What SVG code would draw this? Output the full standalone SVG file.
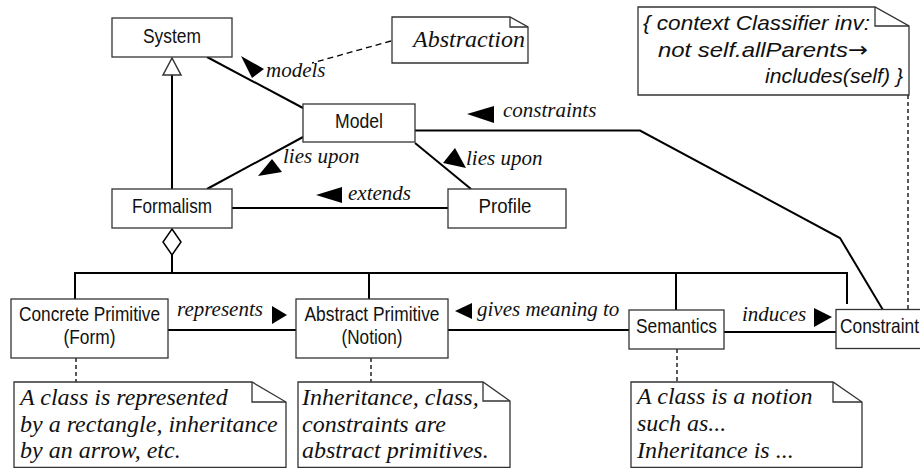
<svg xmlns="http://www.w3.org/2000/svg" width="920" height="468" viewBox="0 0 920 468">
<style>
.box{fill:#fff;stroke:#333;stroke-width:1.3}
.note{fill:#fff;stroke:#333;stroke-width:1.3;stroke-linejoin:miter}
.fold{fill:none;stroke:#333;stroke-width:1.3}
.c{fill:none;stroke:#000;stroke-width:2}
.d{fill:none;stroke:#000;stroke-width:1.3;stroke-dasharray:6,4}
.dd{fill:none;stroke:#000;stroke-width:1.3;stroke-dasharray:4,3}
.ah{fill:#000;stroke:none}
.n{font-family:"Liberation Sans",Arial,sans-serif;font-size:21px;fill:#111;text-anchor:middle}
.l{font-family:"Liberation Serif","Times New Roman",serif;font-style:italic;font-size:21px;fill:#111}
.nt{font-family:"Liberation Serif","Times New Roman",serif;font-style:italic;font-size:24px;fill:#111}
.ocl{font-family:"Liberation Sans",Arial,sans-serif;font-style:italic;font-size:21px;fill:#111}
</style>
<rect width="920" height="468" fill="#fff"/>
<g id="connectors">
  <line class="c" x1="207" y1="57" x2="303" y2="108"/>
  <line class="d" x1="391" y1="41" x2="312" y2="63"/>
  <line class="c" x1="207" y1="189" x2="303" y2="137"/>
  <line class="c" x1="415" y1="143" x2="471" y2="189"/>
  <line class="c" x1="232" y1="208" x2="448" y2="208"/>
  <polyline class="c" points="415,130.5 640,130.5 840,238 883,310"/>
  <line class="dd" x1="908" y1="95" x2="908" y2="309"/>
  <line class="c" x1="172" y1="75" x2="172" y2="189"/>
  <polygon points="172,58 181,75 163,75" fill="#fff" stroke="#333" stroke-width="1.5"/>
  <line class="c" x1="172" y1="255" x2="172" y2="273"/>
  <polygon points="172,229 181,242 172,255 163,242" fill="#fff" stroke="#000" stroke-width="1.5"/>
  <polyline class="c" points="75,299 75,273 847,273 847,304"/>
  <line class="c" x1="369" y1="273" x2="369" y2="299"/>
  <line class="c" x1="676" y1="273" x2="676" y2="310"/>
  <line class="c" x1="168" y1="330" x2="296" y2="330"/>
  <line class="c" x1="448" y1="330" x2="629" y2="330"/>
  <line class="c" x1="724" y1="332" x2="836" y2="332"/>
  <line class="dd" x1="76" y1="358" x2="76" y2="382"/>
  <line class="dd" x1="371" y1="358" x2="371" y2="382"/>
  <line class="dd" x1="677" y1="349" x2="677" y2="382"/>
  <polygon class="ah" points="241,56 264,69 252,78"/>
  <polygon class="ah" points="258,176 282,172 272,159"/>
  <polygon class="ah" points="443,163 455,148 466,168"/>
  <polygon class="ah" points="467,114 494,106 494,123"/>
  <polygon class="ah" points="316,195 342,187 342,203"/>
  <polygon class="ah" points="287,315 272,306 272,324"/>
  <polygon class="ah" points="455,311 472,303 472,319"/>
  <polygon class="ah" points="832,317 814,308 814,327"/>
  <text class="l" x="266" y="77">models</text>
  <text class="l" x="283" y="163">lies upon</text>
  <text class="l" x="466" y="165">lies upon</text>
  <text class="l" x="503" y="117">constraints</text>
  <text class="l" x="348" y="200">extends</text>
  <text class="l" x="177" y="316">represents</text>
  <text class="l" x="477" y="316">gives meaning to</text>
  <text class="l" x="742" y="321">induces</text>
</g>
<g id="system">
  <rect class="box" x="112" y="18" width="120" height="39"/>
  <text class="n" x="172" y="43" textLength="58" lengthAdjust="spacingAndGlyphs">System</text>
</g>
<g id="abstraction">
  <path class="note" d="M392,17 H510 L528,27 V63 H392 Z"/>
  <path class="fold" d="M510,17 V27 H528"/>
  <text class="nt" x="413" y="47">Abstraction</text>
</g>
<g id="model">
  <rect class="box" x="303" y="104" width="112" height="38"/>
  <text class="n" x="359" y="128" textLength="48" lengthAdjust="spacingAndGlyphs">Model</text>
</g>
<g id="formalism">
  <rect class="box" x="112" y="189" width="120" height="39"/>
  <text class="n" x="172" y="213" textLength="80" lengthAdjust="spacingAndGlyphs">Formalism</text>
</g>
<g id="profile">
  <rect class="box" x="448" y="189" width="118" height="39"/>
  <text class="n" x="505" y="213" textLength="53" lengthAdjust="spacingAndGlyphs">Profile</text>
</g>
<g id="ocl-note">
  <path class="note" d="M638,7 H875 L909,26 V95 H638 Z"/>
  <path class="fold" d="M875,7 V26 H909"/>
  <text class="ocl" x="643" y="30" textLength="227" lengthAdjust="spacingAndGlyphs">{ context Classifier inv:</text>
  <text class="ocl" x="658" y="57" textLength="210" lengthAdjust="spacingAndGlyphs">not self.allParents<tspan style="font-family:'DejaVu Sans',sans-serif;font-style:normal">→</tspan></text>
  <text class="ocl" x="765" y="83" textLength="138" lengthAdjust="spacingAndGlyphs">includes(self) }</text>
</g>
<g id="concrete-primitive">
  <rect class="box" x="11" y="299" width="157" height="59"/>
  <text class="n" x="89.5" y="321" textLength="141" lengthAdjust="spacingAndGlyphs">Concrete Primitive</text>
  <text class="n" x="89.5" y="344" textLength="52" lengthAdjust="spacingAndGlyphs">(Form)</text>
</g>
<g id="abstract-primitive">
  <rect class="box" x="296" y="299" width="152" height="59"/>
  <text class="n" x="372" y="321" textLength="135" lengthAdjust="spacingAndGlyphs">Abstract Primitive</text>
  <text class="n" x="372" y="344" textLength="61" lengthAdjust="spacingAndGlyphs">(Notion)</text>
</g>
<g id="semantics">
  <rect class="box" x="629" y="310" width="95" height="39"/>
  <text class="n" x="676.5" y="333" textLength="81" lengthAdjust="spacingAndGlyphs">Semantics</text>
</g>
<g id="constraint">
  <rect class="box" x="836" y="309.5" width="100" height="39"/>
  <text class="n" x="840" y="333" style="text-anchor:start" textLength="79" lengthAdjust="spacingAndGlyphs">Constraint</text>
</g>
<g id="note-form">
  <path class="note" d="M14,382 H252 L286,402 V467.5 H14 Z"/>
  <path class="fold" d="M252,382 V402 H286"/>
  <text class="nt" x="20" y="405">A class is represented</text>
  <text class="nt" x="20" y="432">by a rectangle, inheritance</text>
  <text class="nt" x="20" y="458">by an arrow, etc.</text>
</g>
<g id="note-notion">
  <path class="note" d="M298,382 H483 L510,401 V467.5 H298 Z"/>
  <path class="fold" d="M483,382 V401 H510"/>
  <text class="nt" x="302" y="405">Inheritance, class,</text>
  <text class="nt" x="302" y="432">constraints are</text>
  <text class="nt" x="302" y="458">abstract primitives.</text>
</g>
<g id="note-semantics">
  <path class="note" d="M631,382 H833 L862,402 V467.5 H631 Z"/>
  <path class="fold" d="M833,382 V402 H862"/>
  <text class="nt" x="637" y="404">A class is a notion</text>
  <text class="nt" x="637" y="431">such as...</text>
  <text class="nt" x="637" y="458">Inheritance is ...</text>
</g>
</svg>
